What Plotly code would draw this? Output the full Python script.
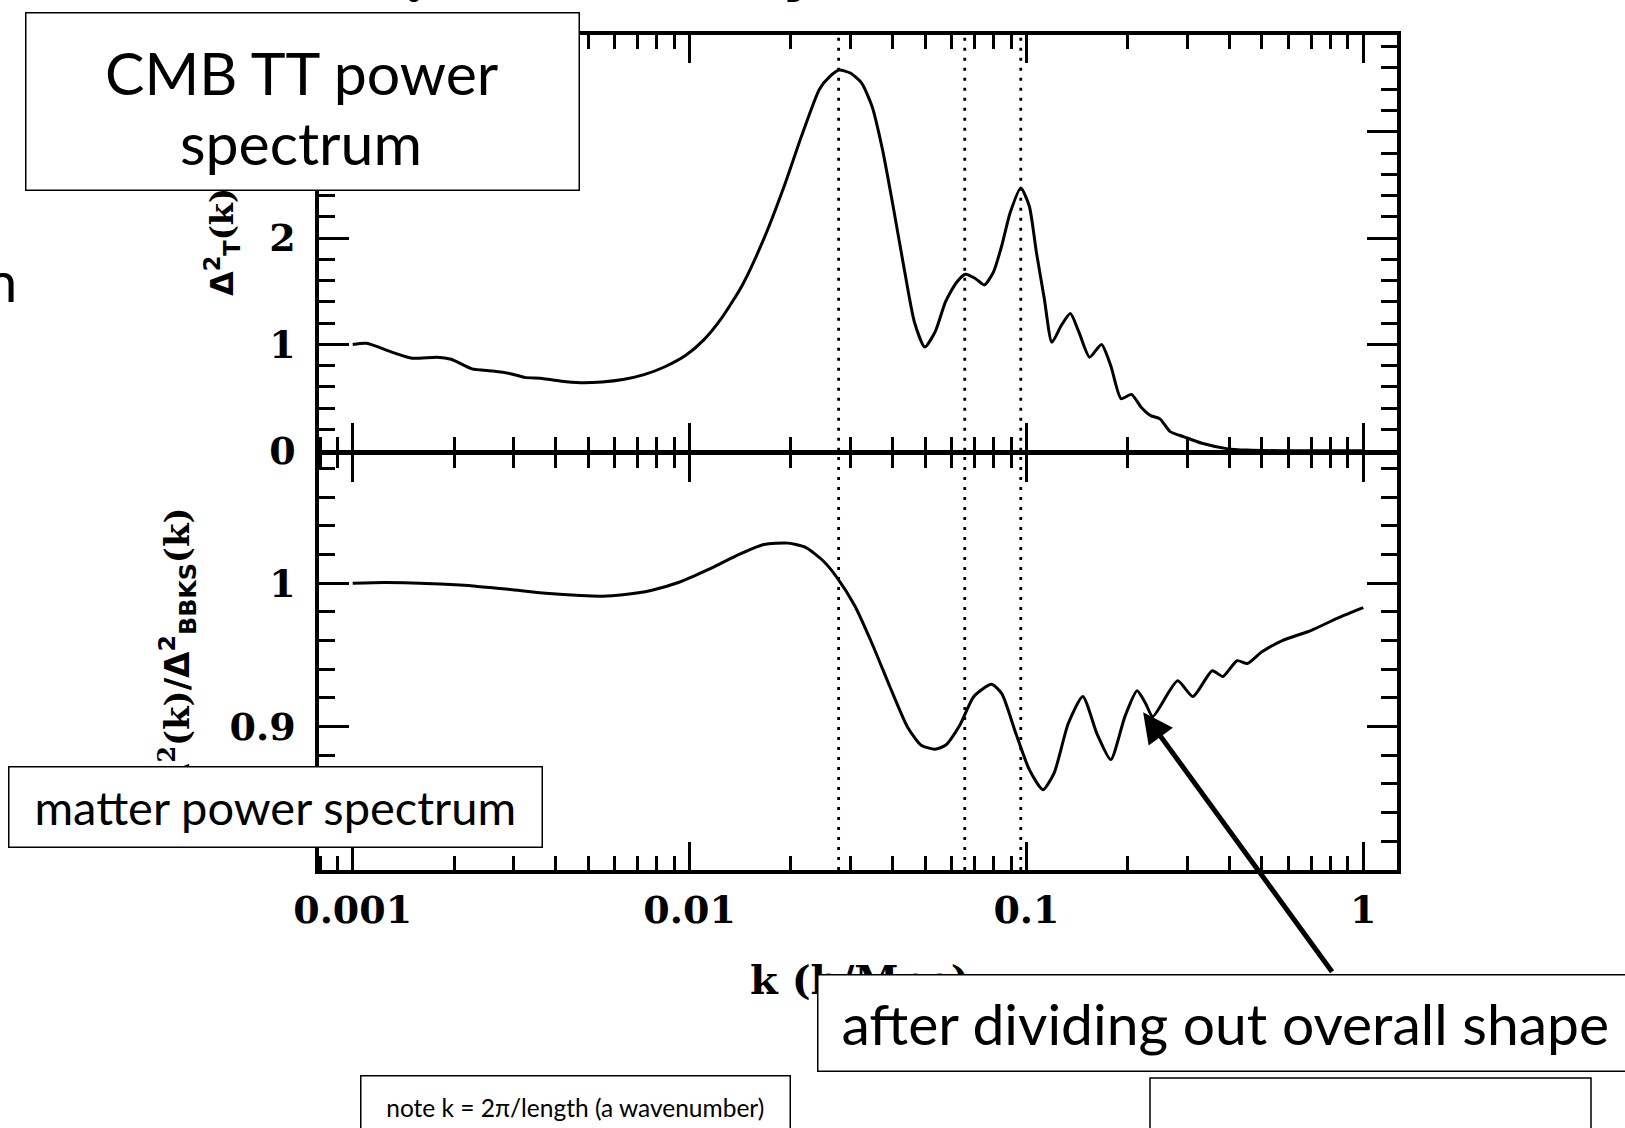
import numpy as np
import plotly.graph_objects as go
from plotly.subplots import make_subplots

# ---- top panel: CMB temperature power spectrum, Delta_T^2(k) ----
k_cmb = [0.001, 0.00110, 0.00130, 0.00150, 0.00178, 0.00196, 0.00226, 0.00261,
         0.00294, 0.00324, 0.00365, 0.00412, 0.00475, 0.00550, 0.00634, 0.00733,
         0.00845, 0.00977, 0.0110, 0.0124, 0.0143, 0.0166, 0.0191, 0.0215,
         0.0243, 0.0261, 0.0278, 0.0301, 0.0324, 0.0348, 0.0374, 0.0402,
         0.0432, 0.0465, 0.0499, 0.0536, 0.0575, 0.0619, 0.0659, 0.0705,
         0.0750, 0.0798, 0.0845, 0.0895, 0.0962, 0.102, 0.107, 0.113,
         0.119, 0.127, 0.135, 0.143, 0.154, 0.167, 0.178, 0.191,
         0.205, 0.219, 0.234, 0.249, 0.267, 0.294, 0.332, 0.393,
         0.453, 0.575, 1.0]
delta_T2 = [1.00, 1.01, 0.93, 0.87, 0.88, 0.86, 0.77, 0.75,
            0.725, 0.69, 0.68, 0.656, 0.64, 0.647, 0.67, 0.716,
            0.79, 0.90, 1.04, 1.24, 1.55, 1.99, 2.49, 2.96,
            3.40, 3.52, 3.58, 3.55, 3.46, 3.24, 2.83, 2.30,
            1.74, 1.21, 0.975, 1.12, 1.40, 1.58, 1.66, 1.62,
            1.56, 1.68, 1.93, 2.24, 2.47, 2.30, 1.87, 1.43,
            1.02, 1.18, 1.29, 1.12, 0.88, 1.00, 0.80, 0.49,
            0.53, 0.41, 0.33, 0.30, 0.18, 0.13, 0.07, 0.02,
            0.006, 0.0, 0.0]

# ---- bottom panel: matter power spectrum over the BBKS shape ----
k_ratio = [0.001, 0.00124, 0.00150, 0.00182, 0.00232, 0.00294, 0.00374, 0.00475,
           0.00550, 0.00634, 0.00768, 0.00931, 0.0113, 0.0137, 0.0166, 0.0196,
           0.0221, 0.0249, 0.0274, 0.0309, 0.0348, 0.0393, 0.0443, 0.0487,
           0.0536, 0.0575, 0.0634, 0.0698, 0.0787, 0.0845, 0.0931, 0.102,
           0.112, 0.121, 0.133, 0.147, 0.162, 0.178, 0.196, 0.213,
           0.226, 0.237, 0.281, 0.312, 0.356, 0.383, 0.422, 0.453,
           0.499, 0.575, 0.698, 0.845, 1.0]
ratio = [1.000, 1.0005, 1.0002, 0.9995, 0.998, 0.9956, 0.993, 0.9914,
         0.991, 0.992, 0.995, 1.0007, 1.0093, 1.019, 1.027, 1.028,
         1.025, 1.0157, 1.004, 0.9845, 0.958, 0.928, 0.900, 0.887,
         0.8843, 0.887, 0.901, 0.921, 0.9296, 0.923, 0.895, 0.870,
         0.856, 0.868, 0.902, 0.921, 0.895, 0.877, 0.907, 0.925,
         0.916, 0.907, 0.932, 0.921, 0.939, 0.935, 0.946, 0.944,
         0.952, 0.960, 0.967, 0.976, 0.983]

# wavenumbers of the first three acoustic peaks (dotted markers)
peak_k = [0.0277, 0.0656, 0.0962]

# wiggle pointed at by the arrow
arrow_k, arrow_ratio = 0.222, 0.910

x_ticks = [0.001, 0.01, 0.1, 1]
x_ticktext = ["0.001", "0.01", "0.1", "1"]
top_ticks = [0, 1, 2, 3]
top_ticktext = ["0", "1", "2", ""]
bot_ticks = [0.9, 1.0]
bot_ticktext = ["0.9", "1"]

LOGK_RANGE = [-3.1, 0.1]
TOP_RANGE = [0, 3.91]
BOT_RANGE = [0.80, 1.09]

W, H = 1625, 1128
PL, PR, PT, PB = 319, 1397, 35, 870
AXIS_LW = 3.5


def px_x(x):
    return (x - PL) / (PR - PL)


def px_y(y):
    return (PB - y) / (PB - PT)


fig = make_subplots(rows=2, cols=1, shared_xaxes=True, vertical_spacing=0)

line_style = dict(color="black", width=3)
fig.add_trace(go.Scatter(x=k_cmb, y=delta_T2, mode="lines",
                         line=dict(**line_style, shape="spline", smoothing=0.6)),
              row=1, col=1)
fig.add_trace(go.Scatter(x=k_ratio, y=ratio, mode="lines",
                         line=dict(**line_style, shape="spline", smoothing=0.6)),
              row=2, col=1)

dot = dict(color="black", width=2.8, dash="3px,7px")
for kp in peak_k:
    fig.add_trace(go.Scatter(x=[kp, kp], y=TOP_RANGE, mode="lines", line=dot),
                  row=1, col=1)
    fig.add_trace(go.Scatter(x=[kp, kp], y=BOT_RANGE, mode="lines", line=dot),
                  row=2, col=1)

minor_k = [m * 10.0 ** e for e in range(-4, 1) for m in range(2, 10)
           if -3.1 <= np.log10(m * 10.0 ** e) <= 0.1]

tick_font = dict(family="DejaVu Serif", size=38, color="black", weight="bold")
common_x = dict(type="log", range=LOGK_RANGE, showline=True, linewidth=AXIS_LW,
                linecolor="black", mirror="ticks", ticks="inside", ticklen=28,
                tickwidth=2.6, tickcolor="black", tickmode="array",
                tickvals=x_ticks, ticktext=x_ticktext, showgrid=False,
                zeroline=False,
                minor=dict(ticks="inside", ticklen=14, tickwidth=2.6,
                           tickcolor="black", tickmode="array",
                           tickvals=minor_k, showgrid=False))
fig.update_xaxes(**common_x, showticklabels=False, row=1, col=1)
fig.update_xaxes(**common_x, showticklabels=True, tickfont=tick_font,
                 ticklabelstandoff=4, row=2, col=1)

common_y = dict(showline=True, linewidth=AXIS_LW, linecolor="black",
                mirror="ticks", ticks="inside", ticklen=30, tickwidth=2.6,
                tickcolor="black", showgrid=False, zeroline=False,
                tickfont=tick_font, tickmode="array", ticklabelstandoff=12)
# the two panels share the middle frame line: overlap the domains by one
# line width so both axis lines land on the same pixels
eps = (AXIS_LW / 2) / (PB - PT)
fig.update_yaxes(**common_y, range=TOP_RANGE, tickvals=top_ticks,
                 ticktext=top_ticktext,
                 domain=[0.5 + eps, 1],
                 minor=dict(ticks="inside", ticklen=16, tickwidth=2.6,
                            tickcolor="black", dtick=0.2, tick0=0,
                            showgrid=False),
                 row=1, col=1)
fig.update_yaxes(**common_y, range=BOT_RANGE, tickvals=bot_ticks,
                 ticktext=bot_ticktext,
                 domain=[0, 0.5 - eps],
                 minor=dict(ticks="inside", ticklen=16, tickwidth=2.6,
                            tickcolor="black", dtick=0.02, tick0=0.8,
                            showgrid=False),
                 row=2, col=1)

ann = []

# cut-off plot title above the frame
title_font = dict(family="DejaVu Sans", size=30, color="black")
ann.append(dict(text="<b>Ω<sub>0</sub> = 0.3, h = 0.65,</b>", xref="paper",
                yref="paper", x=px_x(380), y=px_y(8), xanchor="left",
                yanchor="bottom", showarrow=False, borderpad=0,
                font=title_font))
ann.append(dict(text="<b>Ω<sub>B</sub> = 0.05</b>", xref="paper",
                yref="paper", x=px_x(759), y=px_y(8), xanchor="left",
                yanchor="bottom", showarrow=False, borderpad=0,
                font=title_font))
# tail of a slide word at the left edge
ann.append(dict(text="n", xref="paper", yref="paper", x=px_x(-15), y=px_y(280),
                xanchor="left", yanchor="middle", showarrow=False, borderpad=0,
                font=dict(family="Lato", size=56, color="black")))

# axis titles
ann.append(dict(text="<b>Δ<sup>2</sup><sub>T</sub>"
                     "<span style='font-family:DejaVu Serif'>(k)</span></b>",
                xref="paper", yref="paper", x=px_x(222), y=px_y(242),
                xanchor="center", yanchor="middle", textangle=-90,
                showarrow=False,
                font=dict(family="DejaVu Sans", size=32, color="black")))
ann.append(dict(text="<b><span style='font-family:DejaVu Serif'>Δ<sup>2</sup>(k)/</span>"
                     "Δ<sup>2</sup><sub>BBKS</sub>"
                     "<span style='font-family:DejaVu Serif'>(k)</span></b>",
                xref="paper", yref="paper", x=px_x(177), y=px_y(648),
                xanchor="center", yanchor="middle", textangle=-90,
                showarrow=False,
                font=dict(family="DejaVu Sans", size=34, color="black")))
ann.append(dict(text="<b>k (h/Mpc)</b>", xref="paper", yref="paper",
                x=px_x(860), y=px_y(980), xanchor="center", yanchor="middle",
                showarrow=False,
                font=dict(family="DejaVu Serif", size=40, color="black")))


def boxed(text, x0, y0, x1, y1, size):
    return dict(text=text, xref="paper", yref="paper", x=px_x(x0), y=px_y(y0),
                xanchor="left", yanchor="top", showarrow=False,
                width=x1 - x0 - 1.5, height=y1 - y0 - 1.5, borderpad=0,
                borderwidth=1.5, bordercolor="black", bgcolor="white",
                align="center", valign="middle",
                font=dict(family="Lato", size=size, color="black"))


def label(text, cx, cy, size):
    return dict(text=text, xref="paper", yref="paper", x=px_x(cx), y=px_y(cy),
                xanchor="center", yanchor="middle", showarrow=False,
                borderpad=0, font=dict(family="Lato", size=size, color="black"))


# two-line label: box first, then each line on its own for tighter leading
ann.append(boxed(" ", 25, 12, 578, 189, 10))
ann.append(label("CMB TT power", 302, 73, 59))
ann.append(label("spectrum", 301, 142, 59))

ann.append(boxed("matter power spectrum", 8, 766, 541, 846, 47))
ann.append(boxed("after dividing out overall shape", 817, 974, 1632, 1070, 57))
ann.append(boxed("note k = 2π/length (a wavenumber)", 360, 1075, 789, 1138, 24.5))

# arrow to the acoustic wiggles in the matter spectrum
ann.append(dict(text="", xref="x2", yref="y2", x=np.log10(arrow_k),
                y=arrow_ratio, showarrow=True, ax=190, ay=261,
                arrowhead=2, arrowsize=1.2, arrowwidth=5, arrowcolor="black",
                standoff=0))

fig.update_layout(
    width=W, height=H,
    margin=dict(l=PL, r=W - PR, t=PT, b=H - PB),
    paper_bgcolor="white", plot_bgcolor="white",
    showlegend=False, hovermode=False,
    annotations=ann,
    shapes=[dict(type="rect", xref="paper", yref="paper",
                 x0=px_x(1150), x1=px_x(1591), y0=px_y(1078), y1=px_y(1140),
                 line=dict(color="black", width=1.5), fillcolor="white",
                 layer="above")],
)

fig.write_html("out.html")
